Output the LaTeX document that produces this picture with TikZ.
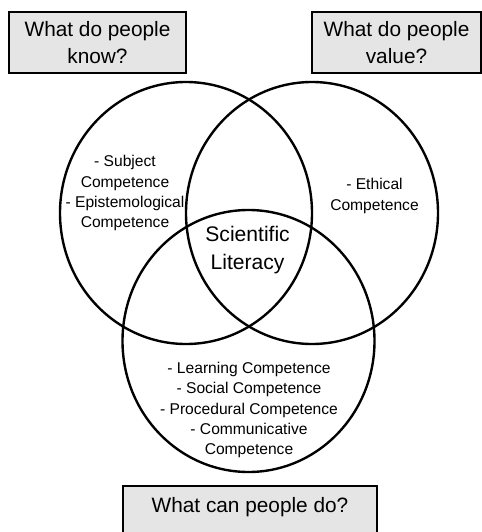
\documentclass[tikz,border=0pt]{standalone}
\usepackage{fontspec}
\setmainfont{Liberation Sans}
\usetikzlibrary{shapes.geometric}

\begin{document}
\begin{tikzpicture}[
        askbox/.style={draw, line width=0.9pt, fill=black!10, align=center, inner sep=0pt,
                minimum height=1.525000cm, font=\fontsize{14.8}{19.6}\selectfont},
        ring/.style={draw, ellipse, line width=1.7pt, inner sep=0pt,
                minimum width=6.300000cm, minimum height=6.550000cm},
        comp/.style={align=center, inner sep=0pt, font=\fontsize{11.1}{14.5}\selectfont}]
        \clip (0cm, 0cm) rectangle (12.050000cm, -13.300000cm);
        % the three questions
        \node (know) [askbox, minimum width=4.425000cm] at (2.437500cm, -1.062500cm) {What do people\\know?};
        \node (value) [askbox, minimum width=4.225000cm] at (9.912500cm, -1.062500cm) {What do people\\value?};
        \node (do) [askbox, minimum width=6.350000cm, text height=8.5pt, text depth=13.5pt] at (6.250000cm, -12.912500cm) {What can people do?};
        % the three rings
        \node (rknow) [ring] at (4.650000cm, -5.325000cm) {};
        \node (rvalue) [ring] at (7.800000cm, -5.325000cm) {};
        \node (rdo) [ring] at (6.212500cm, -8.525000cm) {};
        % what lies in them
        \node (sl) [align=center, inner sep=0pt, font=\fontsize{15}{19.4}\selectfont] at (6.190000cm, -6.250000cm) {Scientific\\Literacy};
        \node (cknow) [comp] at (3.125000cm, -4.830000cm) {- Subject\\Competence\\- Epistemological\\Competence};
        \node (cvalue) [comp] at (9.362500cm, -4.900000cm) {- Ethical\\Competence};
        \node (cdo) [comp] at (6.225000cm, -10.250000cm) {- Learning Competence\\- Social Competence\\- Procedural Competence\\- Communicative\\Competence};
\end{tikzpicture}
\end{document}
